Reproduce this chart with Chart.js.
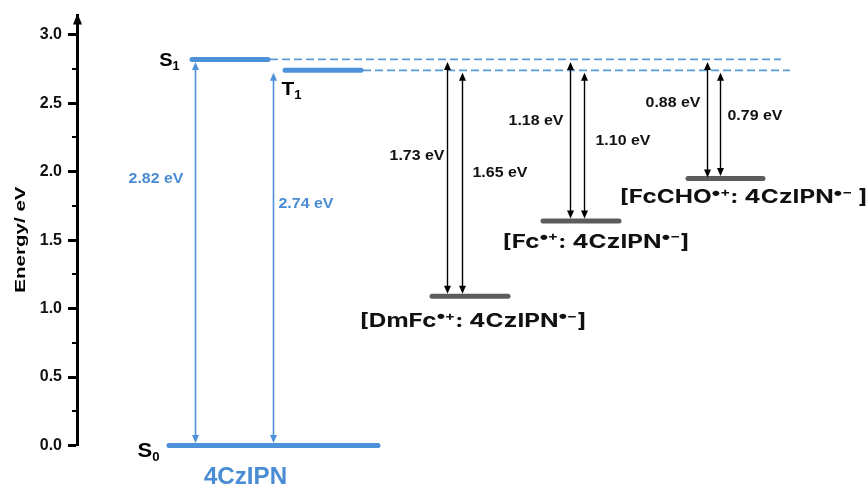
<!DOCTYPE html>
<html>
<head>
<meta charset="utf-8">
<script src="https://cdn.jsdelivr.net/npm/chart.js@4.4.1/dist/chart.umd.min.js"></script>
<style>
  html, body { margin: 0; padding: 0; background: #fff; }
  #wrap { width: 866px; height: 485px; }
</style>
</head>
<body>
<div id="wrap"><canvas id="c" width="866" height="485"></canvas></div>
<script>
// ---- data ----
// Energy levels (eV)
const levelNames  = ['S_{0}', 'S_{1}', 'T_{1}',
                     '[DmFc^{•+}: 4CzIPN^{•−}]',
                     '[Fc^{•+}: 4CzIPN^{•−}]',
                     '[FcCHO^{•+}: 4CzIPN^{•−} ]'];
const levelEnergy = [0.00, 2.82, 2.74, 1.09, 1.64, 1.95];

// Transitions: index of the upper level and the gap (eV) down to the lower state
const gapUpper = [1, 2, 1, 2, 1, 2, 1, 2];
const gapValue = [2.82, 2.74, 1.73, 1.65, 1.18, 1.10, 0.88, 0.79];

// Y-axis tick labels
const yTicks = [0, 0.5, 1.0, 1.5, 2.0, 2.5, 3.0];
const yMinor = [0.25, 0.75, 1.25, 1.75, 2.25, 2.75];

const moleculeName = '4CzIPN';
const yTitle = 'Energy/ eV';

// ---- layout (x in horizontal units of the hidden x scale) ----
const levelSpan = [[92, 301], [115, 191], [208, 284], [355, 431], [466, 542], [611, 686]];
const levelKind = ['mol', 'mol', 'mol', 'ct', 'ct', 'ct'];
const dashEnd   = { 1: 704, 2: 713 };           // extension of S1 and T1 as dashed guides
const arrowX    = [118, 196, 370, 385, 493, 507, 630, 643];
// gap label placement: side of the arrow, distance in px, height in eV
const gapLabelPos = [
  ['left', 12, 1.953], ['right', 5, 1.771],
  ['left', 3, 2.12],   ['right', 10, 1.996],
  ['left', 7, 2.382],  ['right', 11, 2.234],
  ['left', 7, 2.513],  ['right', 7, 2.418]
];

const BLUE = '#4d91d9';
const BLUE_DASH = '#5b9bd5';
const BLUE_TEXT = '#4a8cd4';
const GREY = '#5c5c5c';
const ARIAL = '"Liberation Sans", Arial, Helvetica, sans-serif';
const CT_FONT = 'Inter, "Liberation Sans", Arial, sans-serif';

// ---- datasets ----
const datasets = [];
levelEnergy.forEach((e, i) => {
  datasets.push({
    data: [{ x: levelSpan[i][0], y: e }, { x: levelSpan[i][1], y: e }],
    borderColor: levelKind[i] === 'mol' ? BLUE : GREY,
    borderWidth: 5,
    borderCapStyle: 'round',
    pointRadius: 0,
    showLine: true,
    clip: false
  });
});
Object.keys(dashEnd).forEach(k => {
  const i = +k;
  datasets.push({
    data: [{ x: levelSpan[i][1] + 2, y: levelEnergy[i] }, { x: dashEnd[k], y: levelEnergy[i] }],
    borderColor: BLUE_DASH,
    borderWidth: 1.6,
    borderDash: [8, 4],
    pointRadius: 0,
    showLine: true,
    clip: false
  });
});

// rich text with ^{superscript} and _{subscript}; stretch widens it horizontally.
// Radical dots in superscripts are set a little larger than the charge sign.
function drawRich(ctx, text, x, cy, size, family, weight, color, align, stretch) {
  stretch = stretch || 1;
  const raw = [];
  const re = /([\^_])\{([^}]*)\}/g;
  let last = 0, m;
  while ((m = re.exec(text))) {
    if (m.index > last) raw.push({ t: text.slice(last, m.index), k: '' });
    raw.push({ t: m[2], k: m[1] });
    last = re.lastIndex;
  }
  if (last < text.length) raw.push({ t: text.slice(last), k: '' });
  const parts = [];
  raw.forEach(p => {
    if (p.k === '^' && p.t.startsWith('•')) {
      parts.push({ t: '•', k: '^', dot: true });
      if (p.t.length > 1) parts.push({ t: p.t.slice(1), k: '^' });
    } else parts.push(p);
  });
  const fMain = `${weight} ${size}px ${family}`;
  const fSmall = `${weight} ${Math.round(size * 0.62)}px ${family}`;
  const fDot = `${weight} ${Math.round(size * 0.9)}px ${family}`;
  const fontOf = p => p.dot ? fDot : p.k ? fSmall : fMain;
  let w = 0;
  parts.forEach(p => { ctx.font = fontOf(p); p.w = ctx.measureText(p.t).width * (p.dot ? 0.8 : 1); w += p.w; });
  const W = w * stretch;
  const x0 = align === 'center' ? x - W / 2 : align === 'right' ? x - W : x;
  const base = cy + size * 0.36;
  ctx.save();
  ctx.translate(x0, 0);
  ctx.scale(stretch, 1);
  ctx.fillStyle = color;
  ctx.textAlign = 'left';
  ctx.textBaseline = 'alphabetic';
  let px = 0;
  parts.forEach(p => {
    ctx.font = fontOf(p);
    let y = base;
    if (p.dot) y = base - size * 0.30;
    else if (p.k === '^') y = base - size * 0.40;
    else if (p.k === '_') y = base + size * 0.22;
    ctx.fillText(p.t, px - (p.dot ? p.w * 0.1 : 0), y);
    px += p.w;
  });
  ctx.restore();
}

const diagram = {
  id: 'diagram',
  afterDraw(chart) {
    const ctx = chart.ctx;
    const xs = chart.scales.x, ys = chart.scales.y;
    const area = chart.chartArea;
    ctx.save();

    // arrow head on the energy axis
    const ax = ys.right + 0.5;
    ctx.fillStyle = '#000';
    ctx.beginPath();
    ctx.moveTo(ax, area.top - 2);
    ctx.lineTo(ax - 4.5, area.top + 9);
    ctx.lineTo(ax + 4.5, area.top + 9);
    ctx.closePath();
    ctx.fill();

    // minor ticks
    ctx.strokeStyle = '#000';
    ctx.lineWidth = 2;
    yMinor.forEach(v => {
      const py = Math.round(ys.getPixelForValue(v));
      ctx.beginPath();
      ctx.moveTo(ys.right - 5, py);
      ctx.lineTo(ys.right, py);
      ctx.stroke();
    });

    // axis title
    ctx.save();
    ctx.translate(25, (ys.getPixelForValue(0) + ys.getPixelForValue(3.14)) / 2 + 9);
    ctx.rotate(-Math.PI / 2);
    ctx.scale(1.37, 1);
    ctx.font = `bold 15px ${ARIAL}`;
    ctx.fillStyle = '#000';
    ctx.textAlign = 'center';
    ctx.textBaseline = 'alphabetic';
    ctx.fillText(yTitle, 0, 0);
    ctx.restore();

    // transition arrows (double headed)
    gapValue.forEach((g, i) => {
      const from = levelEnergy[gapUpper[i]];
      const to = from - g;
      const x = Math.round(xs.getPixelForValue(arrowX[i])) + 0.5;
      const yTop = ys.getPixelForValue(from) + 2.5;
      const yBot = ys.getPixelForValue(to) - 2.5;
      const col = i < 2 ? BLUE : '#000';
      const hl = 8, hw = 3.5;
      ctx.strokeStyle = col;
      ctx.fillStyle = col;
      ctx.lineWidth = i < 2 ? 1.6 : 1.4;
      ctx.beginPath();
      ctx.moveTo(x, yTop + hl - 1);
      ctx.lineTo(x, yBot - hl + 1);
      ctx.stroke();
      ctx.beginPath();
      ctx.moveTo(x, yTop); ctx.lineTo(x - hw, yTop + hl); ctx.lineTo(x + hw, yTop + hl);
      ctx.closePath(); ctx.fill();
      ctx.beginPath();
      ctx.moveTo(x, yBot); ctx.lineTo(x - hw, yBot - hl); ctx.lineTo(x + hw, yBot - hl);
      ctx.closePath(); ctx.fill();

      // gap label
      const [side, d, ly] = gapLabelPos[i];
      drawRich(ctx, g.toFixed(2) + ' eV', side === 'left' ? x - d : x + d, ys.getPixelForValue(ly),
               14.5, ARIAL, 'bold', i < 2 ? BLUE_TEXT : '#111', side === 'left' ? 'right' : 'left', 1.1);
    });

    // state labels
    const lx = i => xs.getPixelForValue(levelSpan[i][0]) - 2.5;
    const ly = i => ys.getPixelForValue(levelEnergy[i]);
    drawRich(ctx, levelNames[0], lx(0) - 7, ly(0) + 4, 20, ARIAL, 'bold', '#000', 'right', 1.1);
    drawRich(ctx, levelNames[1], lx(1) - 10, ly(1), 19, ARIAL, 'bold', '#000', 'right', 1.05);
    drawRich(ctx, levelNames[2], lx(2) - 1, ly(2) + 18, 19, ARIAL, 'bold', '#000', 'left', 1.1);

    const cx0 = (xs.getPixelForValue(levelSpan[0][0]) + xs.getPixelForValue(levelSpan[0][1])) / 2;
    drawRich(ctx, moleculeName, cx0 - 28, ly(0) + 30, 23, ARIAL, 'bold', BLUE_TEXT, 'center', 1.05);

    // charge-transfer state labels
    const ctOffset = { 3: [3, 24], 4: [15, 20], 5: [18, 18] };
    [3, 4, 5].forEach(i => {
      const cx = (xs.getPixelForValue(levelSpan[i][0]) + xs.getPixelForValue(levelSpan[i][1])) / 2;
      drawRich(ctx, levelNames[i], cx + ctOffset[i][0], ly(i) + ctOffset[i][1], 19, CT_FONT, '700', '#111', 'center', 1.28);
    });

    ctx.restore();
  }
};

new Chart(document.getElementById('c'), {
  type: 'scatter',
  data: { datasets },
  options: {
    responsive: false,
    animation: false,
    devicePixelRatio: 1,
    events: [],
    layout: { padding: { top: 14, bottom: 39.5, left: 0, right: 0 } },
    plugins: { legend: { display: false }, tooltip: { enabled: false } },
    scales: {
      x: { type: 'linear', display: false, min: 0, max: 789 },
      y: {
        type: 'linear',
        min: 0,
        max: 3.14,
        afterFit(s) { s.width = 77; },
        afterBuildTicks(s) { s.ticks = yTicks.map(v => ({ value: v })); },
        border: { display: true, width: 3, color: '#000' },
        grid: { drawOnChartArea: false, drawTicks: true, tickLength: 9, tickWidth: 3, tickColor: '#000' },
        ticks: {
          padding: 6,
          color: '#111',
          font: { family: ARIAL, size: 16, weight: 'bold' },
          callback: v => Number(v).toFixed(1)
        }
      }
    }
  },
  plugins: [diagram]
});
</script>
</body>
</html>
